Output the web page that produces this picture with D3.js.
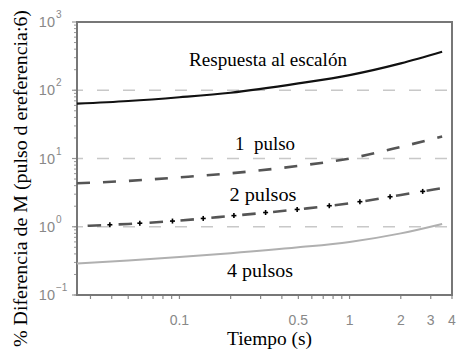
<!DOCTYPE html>
<html><head><meta charset="utf-8">
<script src="https://cdn.jsdelivr.net/npm/d3@7"></script>
<style>body{margin:0;background:#fff}svg{display:block}</style>
</head><body>
<script>
const times = [0.025, 0.05, 0.1, 0.2, 0.5, 1, 2, 3.5];
const stepResp = [63.5, 69.6, 79, 92, 126, 167, 248, 367];
const pulse1 = [4.33, 4.7, 5.3, 6.07, 7.8, 10, 14.8, 21];
const times2 = [0.028, 0.05, 0.1, 0.2, 0.5, 1, 2, 3.5];
const pulse2 = [1.03, 1.1, 1.23, 1.44, 1.8, 2.2, 2.92, 3.67];
const pulse4 = [0.29, 0.32, 0.36, 0.41, 0.5, 0.6, 0.8, 1.1];
const markerTimes = [0.039, 0.0585, 0.091, 0.138, 0.209, 0.321, 0.492, 0.76, 1.15, 1.73, 2.69];
const xTicks = [0.1, 0.5, 1, 2, 3, 4];
const yTicks = [0.1, 1, 10, 100, 1000];
const yExps = ["\u22121", "0", "1", "2", "3"];
const gridVals = [1, 10, 100];
const labels = ["Respuesta al escal\u00f3n", "1  pulso", "2 pulsos", "4 pulsos"];

const W = 458, H = 356;
const svg = d3.select("body").append("svg").attr("width", W).attr("height", H);
const x = d3.scaleLog().domain([0.025, 4]).range([77, 452]);
const y = d3.scaleLog().domain([0.1, 1000]).range([295, 22]);
const serif = "Liberation Serif, Times New Roman, serif";
const sans = "Liberation Sans, Arial, sans-serif";

// grid
svg.selectAll(".grid").data(gridVals).enter().append("line")
  .attr("x1", 77).attr("x2", 452).attr("y1", d => y(d)).attr("y2", d => y(d))
  .attr("stroke", "#c8c8c8").attr("stroke-width", 1.5).attr("stroke-dasharray", "12,14").attr("stroke-dashoffset", 6);

// minor ticks
const xMinor = [];
[0.01, 0.1, 1].forEach(b => { for (let k = 1; k < 10; k++) { const v = b * k; if (v >= 0.03 && v <= 4.01) xMinor.push(v); } });
svg.selectAll(".xt").data(xMinor).enter().append("line")
  .attr("x1", d => x(d)).attr("x2", d => x(d)).attr("y1", 295).attr("y2", 299)
  .attr("stroke", "#888").attr("stroke-width", 1.2);
const yMinor = [];
[0.1, 1, 10, 100].forEach(b => { for (let k = 1; k < 10; k++) yMinor.push(b * k); });
svg.selectAll(".yt").data(yMinor).enter().append("line")
  .attr("x1", 74).attr("x2", 77).attr("y1", d => y(d)).attr("y2", d => y(d))
  .attr("stroke", "#999").attr("stroke-width", 1);
svg.selectAll(".ytm").data(yTicks).enter().append("line")
  .attr("x1", 72).attr("x2", 77).attr("y1", d => y(d)).attr("y2", d => y(d))
  .attr("stroke", "#999").attr("stroke-width", 1.2);

// frame
svg.append("rect").attr("x", 77).attr("y", 22).attr("width", 375).attr("height", 273)
  .attr("fill", "none").attr("stroke", "#777").attr("stroke-width", 2);

const line = (xs) => d3.line().x((d, i) => x(xs[i])).y(d => y(d)).curve(d3.curveMonotoneX);

svg.append("path").attr("d", line(times)(pulse4)).attr("fill", "none")
  .attr("stroke", "#b0b0b0").attr("stroke-width", 2);
const p2 = svg.append("path").attr("d", line(times2)(pulse2)).attr("fill", "none")
  .attr("stroke", "#555").attr("stroke-width", 2.6).attr("stroke-dasharray", "13.5,17.5");
svg.append("path").attr("d", line(times)(pulse1)).attr("fill", "none")
  .attr("stroke", "#555").attr("stroke-width", 2.6).attr("stroke-dasharray", "13,13");
svg.append("path").attr("d", line(times)(stepResp)).attr("fill", "none")
  .attr("stroke", "#111").attr("stroke-width", 2.2);

// align dash gaps of 2 pulsos with the first marker
(function () {
  const node = p2.node(), total = node.getTotalLength(), tx = x(markerTimes[0]);
  let lo = 0, hi = total;
  for (let k = 0; k < 40; k++) { const m = (lo + hi) / 2; if (node.getPointAtLength(m).x < tx) lo = m; else hi = m; }
  const period = 31, gapCenter = 13.5 + 8.75;
  const off = ((gapCenter - lo) % period + period) % period;
  p2.attr("stroke-dashoffset", off);
})();

// markers on 2 pulsos (interpolated in log space)
const lx = times2.map(Math.log10), ly = pulse2.map(Math.log10);
function interp(t) {
  const lt = Math.log10(t);
  let i = 0; while (i < lx.length - 2 && lt > lx[i + 1]) i++;
  const f = (lt - lx[i]) / (lx[i + 1] - lx[i]);
  return Math.pow(10, ly[i] + f * (ly[i + 1] - ly[i]));
}
const mk = svg.selectAll(".mk").data(markerTimes).enter().append("g")
  .attr("transform", d => `translate(${x(d)},${y(interp(d))})`);
mk.append("line").attr("x1", -2.5).attr("x2", 2.5).attr("stroke", "#000").attr("stroke-width", 1.6);
mk.append("line").attr("y1", -2.5).attr("y2", 2.5).attr("stroke", "#000").attr("stroke-width", 1.6);

// x tick labels
svg.selectAll(".xl").data(xTicks).enter().append("text")
  .attr("x", d => x(d)).attr("y", 325).attr("text-anchor", "middle")
  .attr("font-family", sans).attr("font-size", 14)
  .attr("fill", "#888").text(d => d);

// y tick labels
svg.selectAll(".yl").data(yTicks).enter().append("text")
  .attr("x", 55).attr("y", d => y(d) + 5).attr("text-anchor", "end")
  .attr("font-family", sans).attr("font-size", 14.5)
  .attr("fill", "#888").text("10");
svg.selectAll(".ye").data(yTicks).enter().append("text")
  .attr("x", 56).attr("y", d => y(d) - 4)
  .attr("font-family", sans).attr("font-size", 10)
  .attr("fill", "#888").text((d, i) => yExps[i]);

// curve labels
const lab = [[268, 66, 158], [265, 150, 60], [263, 201, 67], [260, 277, 66]];
svg.selectAll(".cl").data(labels).enter().append("text")
  .attr("x", (d, i) => lab[i][0] - lab[i][2] / 2).attr("y", (d, i) => lab[i][1])
  .attr("textLength", (d, i) => lab[i][2]).attr("lengthAdjust", "spacingAndGlyphs")
  .attr("font-family", serif).attr("font-size", 18)
  .attr("fill", "#000").style("white-space", "pre").text(d => d);

// axis titles
svg.append("text").attr("x", 227).attr("y", 345)
  .attr("textLength", 85).attr("lengthAdjust", "spacingAndGlyphs")
  .attr("font-family", serif).attr("font-size", 18)
  .attr("fill", "#000").text("Tiempo (s)");
svg.append("text").attr("transform", "translate(27,347) rotate(-90)")
  .attr("textLength", 337).attr("lengthAdjust", "spacingAndGlyphs")
  .attr("font-family", serif).attr("font-size", 18)
  .attr("fill", "#000").text("% Diferencia de M (pulso d ereferencia:6)");
</script>
</body></html>
